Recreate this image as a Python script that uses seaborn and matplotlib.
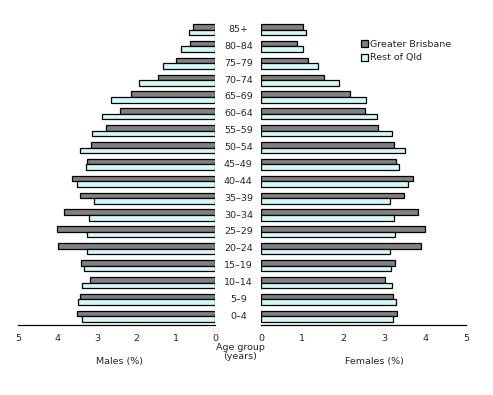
import pandas as pd
import matplotlib
matplotlib.use('Agg')
import matplotlib.pyplot as plt
import matplotlib.transforms as mtransforms
import seaborn as sns

# =============================================================================
# Data (percent of population)
# =============================================================================
age_groups = ['85+', '80–84', '75–79', '70–74', '65–69', '60–64', '55–59',
              '50–54', '45–49', '40–44', '35–39', '30–34', '25–29', '20–24',
              '15–19', '10–14', '5–9', '0–4']

males_brisbane = [0.56, 0.64, 0.99, 1.45, 2.14, 2.42, 2.77, 3.15, 3.25,
                  3.64, 3.43, 3.84, 4.02, 3.99, 3.41, 3.18, 3.43, 3.51]
males_rest_qld = [0.66, 0.86, 1.32, 1.93, 2.64, 2.87, 3.13, 3.43, 3.28,
                  3.51, 3.08, 3.20, 3.25, 3.25, 3.33, 3.38, 3.48, 3.38]

females_brisbane = [1.02, 0.88, 1.13, 1.54, 2.17, 2.54, 2.85, 3.24, 3.29,
                    3.71, 3.49, 3.83, 4.00, 3.90, 3.27, 3.02, 3.22, 3.32]
females_rest_qld = [1.10, 1.02, 1.39, 1.90, 2.56, 2.83, 3.18, 3.51, 3.37,
                    3.59, 3.15, 3.24, 3.27, 3.15, 3.17, 3.20, 3.29, 3.22]

regions = ['Greater Brisbane', 'Rest of Qld']
x_ticks = [0, 1, 2, 3, 4, 5]

# long format for seaborn
df = pd.concat([
    pd.DataFrame({'age': age_groups, 'region': regions[0],
                  'males': males_brisbane, 'females': females_brisbane}),
    pd.DataFrame({'age': age_groups, 'region': regions[1],
                  'males': males_rest_qld, 'females': females_rest_qld}),
])

palette = {'Greater Brisbane': '#808080', 'Rest of Qld': '#ccffff'}

# =============================================================================
# Plot
# =============================================================================
sns.set_style('white')
plt.rcParams['font.family'] = ['DejaVu Sans']
plt.rcParams['font.size'] = 6.8

fig = plt.figure(figsize=(4.93, 3.95), dpi=100)
ax_left = fig.add_axes([0.0371, 0.178, 0.3996, 0.7686])
ax_right = fig.add_axes([0.530, 0.178, 0.4158, 0.7686])

for ax, col in [(ax_left, 'males'), (ax_right, 'females')]:
    sns.barplot(data=df, y='age', x=col, hue='region', hue_order=regions,
                order=age_groups, palette=palette, orient='h', width=0.66,
                edgecolor='black', linewidth=0.9, ax=ax)
    ax.set_ylim(len(age_groups) - 0.5, -0.5)
    ax.set_xticks(x_ticks)
    ax.set_yticks([])
    ax.set_xlabel('')
    ax.set_ylabel('')
    for side in ['top', 'left', 'right']:
        ax.spines[side].set_visible(False)
    ax.spines['bottom'].set_color('black')
    ax.spines['bottom'].set_linewidth(0.9)
    ax.tick_params(axis='x', direction='out', length=4, width=0.9,
                   color='black', pad=3, labelsize=6.8)
    ax.grid(False)

ax_left.set_xlim(5, 0)
ax_right.set_xlim(0, 5)

# legend
handles, labels = ax_right.get_legend_handles_labels()
ax_left.get_legend().remove()
ax_right.get_legend().remove()
fig.legend(handles, labels, loc='upper left', bbox_to_anchor=(0.725, 0.908),
           frameon=False, fontsize=6.8, handlelength=0.75, handleheight=0.75,
           handletextpad=0.15, labelspacing=0.45, borderaxespad=0)

# age group labels in the middle
trans = mtransforms.blended_transform_factory(fig.transFigure, ax_left.transData)
for i, age in enumerate(age_groups):
    ax_left.text(0.4834, i, age, transform=trans, ha='center', va='center',
                 fontsize=6.8, clip_on=False)

fig.text(0.487, 0.109, 'Age group\n(years)', ha='center', va='center',
         fontsize=6.8, linespacing=0.9)
fig.text(0.243, 0.086, 'Males (%)', ha='center', va='center', fontsize=6.8)
fig.text(0.759, 0.086, 'Females (%)', ha='center', va='center', fontsize=6.8)

plt.savefig('out.png', dpi=100)
